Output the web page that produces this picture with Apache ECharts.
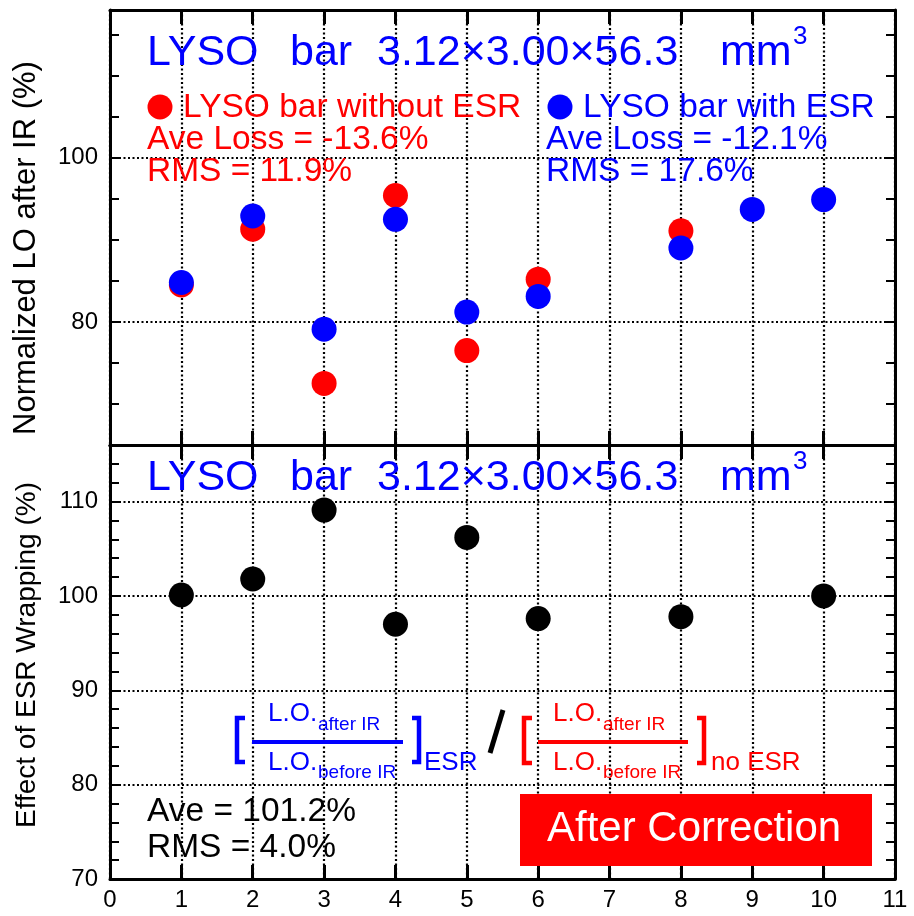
<!DOCTYPE html>
<html><head><meta charset="utf-8">
<script src="https://cdn.jsdelivr.net/npm/echarts@6/dist/echarts.min.js"></script>
<style>html,body{margin:0;padding:0;background:#fff}#c{width:914px;height:916px}</style>
</head><body><div id="c"></div>
<script>
// ---- data ----
const noEsrX = [1, 2, 3, 4, 5, 6, 8];
const noEsrY = [84.5, 91.3, 72.5, 95.4, 76.5, 85.2, 91.1];
const esrX = [1, 2, 3, 4, 5, 6, 8, 9, 10];
const esrY = [84.8, 92.9, 79.1, 92.5, 81.2, 83.1, 89.0, 93.7, 94.9];
const effX = [1, 2, 3, 4, 5, 6, 8, 10];
const effY = [100.1, 101.8, 109.1, 97.0, 106.2, 97.6, 97.8, 100.0];
const topTickLabels = [80, 100];
const bottomTickLabels = [70, 80, 90, 100, 110];
const topGridLines = [80, 100];
const bottomGridLines = [80, 90, 100, 110];

const FONT = '"Liberation Sans", Arial, Helvetica, sans-serif';
const BLUE = '#0000ff', RED = '#ff0000';
const chart = echarts.init(document.getElementById('c'), null, {renderer: 'canvas'});

const dotted = {color: '#000', type: [2, 2.5], width: 2.2};
function xAx(grid, pos, labels, split) {
  return {
    type: 'value', gridIndex: grid, position: pos, min: 0, max: 11, interval: 1,
    axisLine: {show: true, onZero: false, lineStyle: {color: '#000', width: 3}},
    axisTick: {show: true, inside: true, length: 14, lineStyle: {color: '#000', width: 3}},
    axisLabel: {show: labels, fontSize: 24, color: '#000', fontFamily: FONT, margin: 9},
    splitLine: {show: split, lineStyle: dotted}
  };
}
function yAx(grid, pos, min, max, itv, labelVals) {
  return {
    type: 'value', gridIndex: grid, position: pos, min: min, max: max, interval: itv,
    axisLine: {show: true, onZero: false, lineStyle: {color: '#000', width: 3}},
    axisTick: {show: true, inside: true, length: 9, lineStyle: {color: '#000', width: 2}},
    axisLabel: {show: !!labelVals, fontSize: 24, color: '#000', fontFamily: FONT, margin: 12,
      formatter: v => (labelVals && labelVals.indexOf(v) >= 0) ? String(v) : ''},
    splitLine: {show: false}
  };
}
function gridMark(vals) {
  return {
    silent: true, z: 1, symbol: ['none', 'none'], animation: false,
    label: {show: false}, lineStyle: dotted,
    data: vals.map(v => ({yAxis: v}))
  };
}
function txt(text, x, y, size, fill, extra) {
  return Object.assign({
    type: 'text', x: x, y: y, z: 50,
    style: {text: text, x: 0, y: 0, font: size + 'px ' + FONT, fill: fill,
      align: 'left', verticalAlign: 'middle', textAlign: 'left', textVerticalAlign: 'middle'}
  }, extra || {});
}
function poly(pts, color, w) {
  return {type: 'polyline', z: 50, shape: {points: pts}, style: {stroke: color, lineWidth: w, fill: null}};
}
function seg(x1, y1, x2, y2, color, w) {
  return {type: 'line', z: 50, shape: {x1, y1, x2, y2}, style: {stroke: color, lineWidth: w}};
}

const LG = 33.5;
const graphics = [
  // top title
  txt('LYSO', 147, 53, 43, BLUE), txt('bar', 290, 53, 43, BLUE),
  txt('3.12\u00d73.00\u00d756.3', 377, 53, 43, BLUE), txt('mm', 720, 53, 43, BLUE),
  txt('3', 793, 37, 26, BLUE),
  // legends
  {type: 'circle', z: 50, shape: {cx: 160, cy: 107, r: 12.5}, style: {fill: RED}},
  txt('LYSO bar without ESR', 183, 108, LG, RED),
  txt('Ave Loss = -13.6%', 147, 140, LG, RED),
  txt('RMS = 11.9%', 147, 172, LG, RED),
  {type: 'circle', z: 50, shape: {cx: 560, cy: 107, r: 12.5}, style: {fill: BLUE}},
  txt('LYSO bar with ESR', 583, 108, LG, BLUE),
  txt('Ave Loss = -12.1%', 546, 140, LG, BLUE),
  txt('RMS = 17.6%', 546, 172, LG, BLUE),
  // bottom title
  txt('LYSO', 147, 478, 43, BLUE), txt('bar', 290, 478, 43, BLUE),
  txt('3.12\u00d73.00\u00d756.3', 377, 478, 43, BLUE), txt('mm', 720, 478, 43, BLUE),
  txt('3', 793, 462, 26, BLUE),
  // formula blue
  poly([[245, 718], [237, 718], [237, 762], [245, 762]], BLUE, 4.5),
  txt('L.O.', 268, 714, 26, BLUE), txt('after IR', 318, 725, 19, BLUE),
  seg(252, 742, 403, 742, BLUE, 4),
  txt('L.O.', 268, 763, 26, BLUE), txt('before IR', 318, 773, 19, BLUE),
  poly([[412, 718], [419, 718], [419, 762], [412, 762]], BLUE, 4.5),
  txt('ESR', 424, 763, 26, BLUE),
  seg(503, 710, 490, 753, '#000', 5),
  // formula red
  poly([[532, 718], [524, 718], [524, 763], [532, 763]], RED, 4.5),
  txt('L.O.', 553, 714, 26, RED), txt('after IR', 603, 725, 19, RED),
  seg(538, 742, 688, 742, RED, 4),
  txt('L.O.', 553, 763, 26, RED), txt('before IR', 603, 773, 19, RED),
  poly([[697, 718], [704, 718], [704, 763], [697, 763]], RED, 4.5),
  txt('no ESR', 711, 763, 26, RED),
  // stats bottom
  txt('Ave = 101.2%', 147, 812, LG, '#000'),
  txt('RMS = 4.0%', 147, 848, LG, '#000'),
  // red box
  {type: 'rect', z: 49, shape: {x: 520, y: 794, width: 352, height: 72}, style: {fill: RED}},
  txt('After Correction', 547, 829, 42, '#fff'),
  // axis names
  txt('Normalized LO after IR (%)', 26, 248, 31, '#000', {rotation: Math.PI / 2}),
  txt('Effect of ESR Wrapping (%)', 27, 655, 28, '#000', {rotation: Math.PI / 2})
];
// center-align axis names
graphics[graphics.length - 1].style.align = 'center'; graphics[graphics.length - 1].style.textAlign = 'center';
graphics[graphics.length - 2].style.align = 'center'; graphics[graphics.length - 2].style.textAlign = 'center';

chart.setOption({
  animation: false,
  backgroundColor: '#fff',
  grid: [
    {left: 110, right: 19, top: 10, height: 435},
    {left: 110, right: 19, top: 445, height: 434}
  ],
  xAxis: [
    xAx(0, 'bottom', false, true), xAx(0, 'top', false, false),
    xAx(1, 'bottom', true, true), xAx(1, 'top', false, false)
  ],
  yAxis: [
    yAx(0, 'left', 65, 118, 5, topTickLabels), yAx(0, 'right', 65, 118, 5, null),
    yAx(1, 'left', 70, 116, 2, bottomTickLabels), yAx(1, 'right', 70, 116, 2, null)
  ],
  series: [
    {type: 'scatter', xAxisIndex: 0, yAxisIndex: 0, symbolSize: 25, z: 3,
      itemStyle: {color: RED, opacity: 1}, data: noEsrX.map((x, i) => [x, noEsrY[i]]),
      markLine: gridMark(topGridLines)},
    {type: 'scatter', xAxisIndex: 0, yAxisIndex: 0, symbolSize: 25, z: 4,
      itemStyle: {color: BLUE, opacity: 1}, data: esrX.map((x, i) => [x, esrY[i]])},
    {type: 'scatter', xAxisIndex: 2, yAxisIndex: 2, symbolSize: 25, z: 3,
      itemStyle: {color: '#000', opacity: 1}, data: effX.map((x, i) => [x, effY[i]]),
      markLine: gridMark(bottomGridLines)}
  ],
  graphic: graphics
});
</script></body></html>
